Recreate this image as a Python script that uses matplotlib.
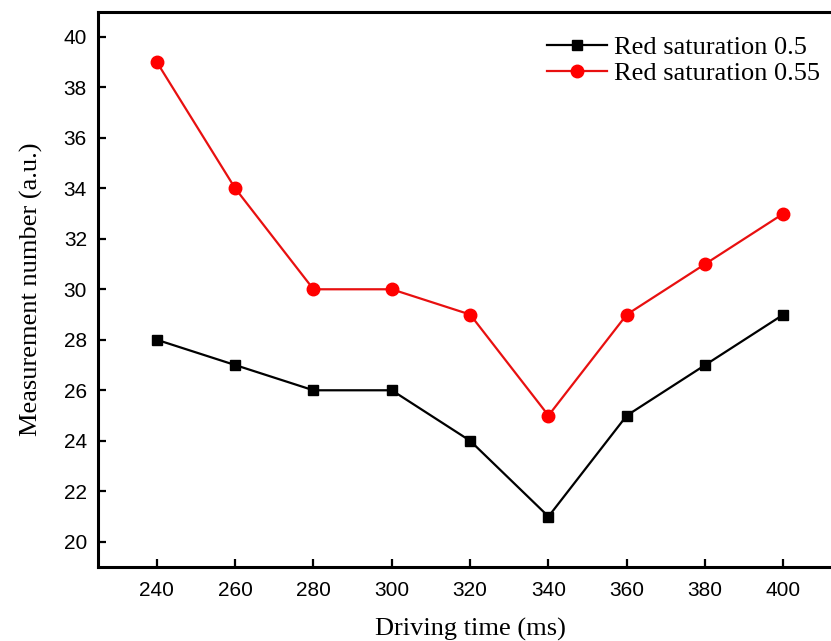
import matplotlib
matplotlib.use('Agg')
import matplotlib.pyplot as plt

# ── Data ──────────────────────────────────────────────────────────────
driving_time = [240, 260, 280, 300, 320, 340, 360, 380, 400]
sat_050 = [28, 27, 26, 26, 24, 21, 25, 27, 29]
sat_055 = [39, 34, 30, 30, 29, 25, 29, 31, 33]
x_ticks = [240, 260, 280, 300, 320, 340, 360, 380, 400]
y_ticks = [20, 22, 24, 26, 28, 30, 32, 34, 36, 38, 40]

serif = ['Liberation Serif', 'DejaVu Serif']
sans = ['Liberation Sans', 'DejaVu Sans']

fig = plt.figure(figsize=(8.31, 6.41), dpi=100)
ax = fig.add_axes([0.118, 0.1154, 0.8955, 0.8666])

ax.plot(driving_time, sat_050, color='black', linewidth=1.6,
        marker='s', markersize=7.5, label='Red saturation 0.5')
ax.plot(driving_time, sat_055, color='#e81010', linewidth=1.6,
        marker='o', markersize=9, markerfacecolor='red',
        markeredgecolor='red', label='Red saturation 0.55')

ax.set_xlim(225, 415)
ax.set_ylim(19, 41)
ax.set_xticks(x_ticks)
ax.set_yticks(y_ticks)

for lab in ax.get_xticklabels() + ax.get_yticklabels():
    lab.set_family(sans)
    lab.set_fontsize(15)

ax.tick_params(direction='in', length=6, width=1.6, pad=8)
ax.tick_params(axis='x', pad=10)
for sp in ax.spines.values():
    sp.set_linewidth(2.2)

ax.set_xlabel('Driving time (ms)', family=serif, fontsize=19, labelpad=13)
ax.set_ylabel('Measurement number (a.u.)', family=serif, fontsize=19,
              labelpad=15)

ax.legend(loc='upper left', bbox_to_anchor=(0.658, 0.944),
          bbox_transform=fig.transFigure, frameon=False,
          borderaxespad=0, borderpad=0,
          prop={'family': serif, 'size': 19}, handlelength=2.3,
          handletextpad=0.25, labelspacing=0.08)

fig.savefig('out.png', dpi=100)
